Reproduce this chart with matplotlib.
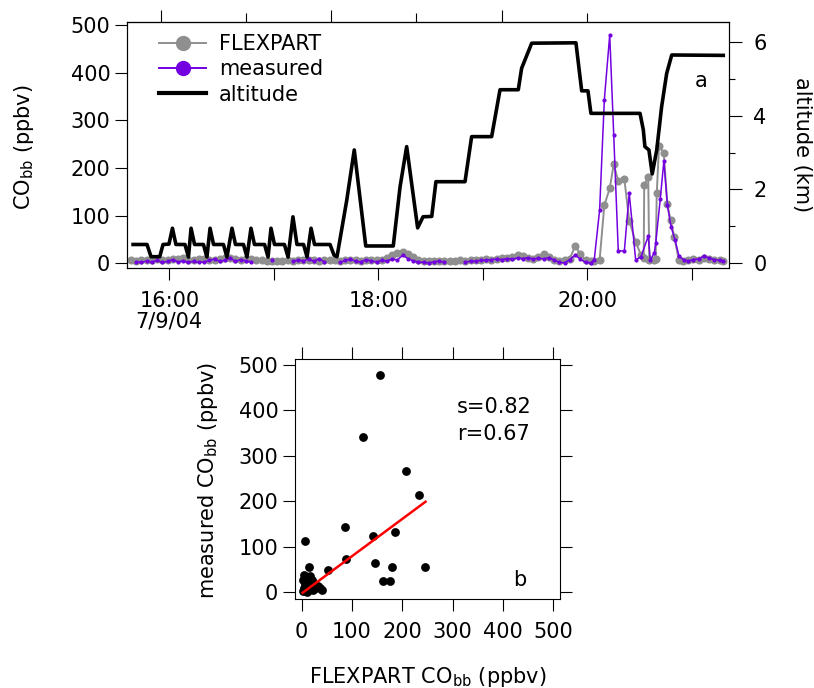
import numpy as np
import matplotlib
matplotlib.use("Agg")
import matplotlib.pyplot as plt
from matplotlib.lines import Line2D
from matplotlib.ticker import FixedLocator

plt.rcParams['font.family'] = ['DejaVu Sans']
plt.rcParams['mathtext.default'] = 'regular'
plt.rcParams['font.size'] = 15

GREY = '#8f8f8f'
PURPLE = '#7300e0'

# --- panel a: CO time series (time in minutes after 15:00, 7/9/04) ---
# background part, one sample every 3 minutes starting at 15:38
BG_START = 38.0
BG_STEP = 3.0
flex_bg = [6, 5, 7, 6, 8, 9, 7, 8, 10, 9, 11, 8, 7, 9, 10, 8, 7, 9, 11, 12,
           10, 8, 9, 10, 8, 6, 5, 5, 4, 5, 6, 5, 6, 7, 8, 6, 5, 6, 7, 6,
           5, 6, 7, 6, 5, 6, 7, 6, 8, 12, 17, 22, 24, 20, 13, 7, 5, 4, 5, 4,
           5, 4, 5, 6, 5, 6, 7, 8, 9, 8, 10, 11, 12, 14, 17, 16, 12, 10, 14, 19,
           13, 8, 5, 6, 10, 36, 20, 6, 4]
meas_bg = [None, 3, 2, 5, 3, 6, 2, 4, 8, 3, 5, 2, 4, 2, 3, 6, 9, 4, 7, 11,
           4, 8, 5, 3, None, None, None, 6, None, None, None, 4, 7, 5, 9, 4, 10, 3, None, None,
           2, 6, 9, 4, 3, 8, 5, 3, 6, 5, 9, 7, 17, 10, 5, 3, 2, 1, 3, 5,
           2, None, None, None, 2, 5, 4, 7, 6, 8, 9, 8, 10, 9, 11, 10, 12, 9, 11, 9,
           12, 7, 2, 1, 8, 17, 9, 2, 1]

# plume part, irregular sampling
flex_t = [304.0, 307.1, 309.8, 312.9, 315.2, 317.8, 321.3, 324.1, 327.8, 330.9,
          332.4, 332.7, 335.0, 335.6, 338.5, 339.3, 339.9, 341.2, 343.9, 346.0,
          347.8, 350.0, 352.5, 355.0, 358.0, 361.0, 364.0, 367.0, 370.0, 373.0,
          376.0, 378.0]
flex_v = [4, 7, 122, 157, 208, 173, 177, 89, 45, 17,
          12, 164, 182, 7, 7, 9, 147, 246, 232, 124,
          91, 56, 7, 4, 6, 9, 8, 12, 10, 8,
          6, 4]
meas_t = [304.0, 307.1, 309.8, 312.9, 315.2, 317.8, 321.3, 324.1, 327.8, 330.9,
          335.0, 336.2, 338.5, 339.3, 341.9, 344.0, 346.0, 348.1, 350.4, 352.7,
          355.4, 358.0, 361.0, 364.0, 367.0, 370.0, 373.0, 376.0, 378.0]
meas_v = [7, 112, 343, 479, 269, 26, 26, 147, 7, 14,
          57, 7, 22, 42, 134, 215, 122, 77, 49, 15,
          7, 5, 8, 9, 15, 11, 8, 6, 4]

# aircraft altitude (km)
alt_t = [39.2, 47.2, 49.5, 54.5, 56.4, 59.8, 61.8, 63.8,
         69.0, 71.0, 72.5, 74.5,
         79.6, 81.6, 83.4, 85.4,
         91.1, 93.1, 96.0, 98.0,
         102.6, 104.6, 106.9, 108.9,
         114.7, 116.7, 118.4, 120.4,
         126.1, 128.2, 131.0, 133.3,
         137.1, 139.1, 141.4, 143.4,
         152.3, 154.6, 156.3, 161.9, 166.2, 172.8, 188.6, 192.5, 196.3, 202.6,
         205.7, 210.7, 213.1, 229.8, 233.6, 245.1, 249.9, 260.4, 262.3, 268.1,
         293.5, 296.8, 300.4, 302.1, 330.3, 332.2, 333.1, 335.4, 337.3, 339.9,
         342.7, 345.6, 348.5, 378.1]
alt_km = [0.51, 0.51, 0.18, 0.18, 0.51, 0.52, 0.95, 0.51,
          0.51, 0.17, 0.95, 0.51,
          0.51, 0.17, 0.95, 0.51,
          0.51, 0.17, 0.95, 0.51,
          0.51, 0.17, 0.95, 0.51,
          0.51, 0.17, 0.95, 0.51,
          0.51, 0.17, 1.26, 0.51,
          0.51, 0.17, 0.95, 0.51,
          0.51, 0.22, 0.18, 1.71, 3.07, 0.47, 0.47, 2.07, 3.16, 0.96,
          1.26, 1.27, 2.21, 2.21, 3.43, 3.43, 4.70, 4.70, 5.28, 5.96,
          5.97, 4.67, 4.67, 4.06, 4.06, 3.61, 3.16, 3.07, 2.42, 3.07,
          4.24, 5.14, 5.64, 5.63]

# --- panel b: scatter of measured vs FLEXPART ---
sc_flex = [156, 122, 207, 233, 87, 141, 186, 89, 146, 179, 246, 161, 176,
           7, 53, 15, 5, 16, 41,
           2, 4, 6, 8, 9, 11, 12, 14, 17, 19, 22, 25, 28, 32, 3, 10, 20, 36]
sc_meas = [478, 342, 267, 214, 144, 124, 133, 74, 64, 55, 55, 24, 24,
           112, 48, 55, 38, 35, 5,
           3, 10, 18, 2, 8, 14, 25, 4, 12, 20, 6, 15, 9, 14, 28, 0, 28, 10]
FIT_SLOPE = 0.82
FIT_ICPT = -2.5
FIT_R = 0.67

x_ticks = [60, 120, 180, 240, 300, 360]
x_labels = ['16:00\n7/9/04', '', '18:00', '', '20:00', '']
top_major = [55.1, 152.9, 250.9]
top_minor = [103.9, 201.9, 299.8]


def to_array(vals):
    return np.array([np.nan if v is None else v for v in vals], dtype=float)


bg_t = BG_START + BG_STEP * np.arange(len(flex_bg))
ft = np.concatenate([bg_t, flex_t])
fv = np.concatenate([to_array(flex_bg), flex_v])
mt = np.concatenate([bg_t, meas_t])
mv = np.concatenate([to_array(meas_bg), meas_v])

fig = plt.figure(figsize=(8.14, 6.88), dpi=100)

# panel a
ax = fig.add_axes([0.1560, 0.6100, 0.7396, 0.3580])
ax.plot(ft, fv, color=GREY, lw=1.4, marker='o', ms=4.8, mec=GREY, mfc=GREY)
ax.plot(mt, mv, color=PURPLE, lw=1.1, marker='o', ms=2.0, mec=PURPLE, mfc=PURPLE)
ax.set_xlim(35.7, 381.4)
ax.set_ylim(-10.5, 506.3)
ax.set_yticks([0, 100, 200, 300, 400, 500])
ax.set_xticks(x_ticks, x_labels, linespacing=1.0)
ax.tick_params(axis='both', direction='out', length=8.5, width=0.8, labelsize=15)
ax.tick_params(axis='y', pad=3.5)
ax.tick_params(axis='x', pad=8)

sec = ax.secondary_xaxis('top')
sec.set_xticks(top_major)
sec.set_xticks(top_minor, minor=True)
sec.set_xticklabels([])
sec.tick_params(which='major', direction='out', length=8.5, width=0.8)
sec.tick_params(which='minor', direction='out', length=6.5, width=0.8)

ax2 = ax.twinx()
ax2.plot(alt_t, alt_km, color='black', lw=2.6, solid_joinstyle='round')
ax2.set_ylim(-0.135, 6.533)
ax2.set_yticks([0, 2, 4, 6])
ax2.yaxis.set_minor_locator(FixedLocator([1, 3, 5]))
ax2.tick_params(axis='y', direction='out', length=9, width=0.8, pad=8.5, labelsize=15)
ax2.tick_params(axis='y', which='minor', direction='out', length=4.5, width=0.8)

for a in (ax, ax2):
    for sp in a.spines.values():
        sp.set_linewidth(0.8)

handles = [
    Line2D([], [], color=GREY, lw=1.4, marker='o', ms=10, label='FLEXPART'),
    Line2D([], [], color=PURPLE, lw=1.4, marker='o', ms=10, label='measured'),
    Line2D([], [], color='black', lw=3.0, label='altitude'),
]
ax2.legend(handles=handles, loc='upper left', bbox_to_anchor=(0.040, 0.984),
           frameon=False, handlelength=2.25, handletextpad=0.6,
           labelspacing=0.25, borderpad=0.4, borderaxespad=0, fontsize=15)
ax2.text(0.9535, 0.7605, 'a', transform=ax2.transAxes, ha='center', va='center')

fig.text(24 / 814, 1 - 147 / 688, 'CO$_{bb}$ (ppbv)', rotation=90,
         ha='center', va='center')
fig.text(802 / 814, 1 - 145 / 688, 'altitude (km)', rotation=270,
         ha='center', va='center')

# panel b
bx = fig.add_axes([0.3624, 0.1289, 0.3256, 0.3493])
bx.scatter(sc_flex, sc_meas, s=40, c='black', linewidths=0, zorder=3)
fit_x = np.array([min(sc_flex), max(sc_flex)], dtype=float)
bx.plot(fit_x, FIT_SLOPE * fit_x + FIT_ICPT, color='red', lw=1.8, zorder=4)
bx.set_xlim(-13.3, 513.3)
bx.set_ylim(-15.4, 513.2)
bx.set_xticks([0, 100, 200, 300, 400, 500])
bx.set_yticks([0, 100, 200, 300, 400, 500])
bx.tick_params(direction='out', length=8.5, width=0.8, labelsize=15,
               top=True, right=True, labeltop=False, labelright=False)
bx.tick_params(axis='y', pad=3.5)
bx.tick_params(axis='x', pad=8)
for sp in bx.spines.values():
    sp.set_linewidth(0.8)
bx.text(0.611, 0.800, f's={FIT_SLOPE:.2f}', transform=bx.transAxes, ha='left', va='center')
bx.text(0.611, 0.688, f'r={FIT_R:.2f}', transform=bx.transAxes, ha='left', va='center')
bx.text(0.849, 0.080, 'b', transform=bx.transAxes, ha='center', va='center')

fig.text(208 / 814, 1 - 480 / 688, 'measured CO$_{bb}$ (ppbv)', rotation=90,
         ha='center', va='center')
fig.text(428 / 814, (688 - 683.3) / 688, 'FLEXPART CO$_{bb}$ (ppbv)',
         ha='center', va='baseline')

fig.savefig('out.png', dpi=100)
